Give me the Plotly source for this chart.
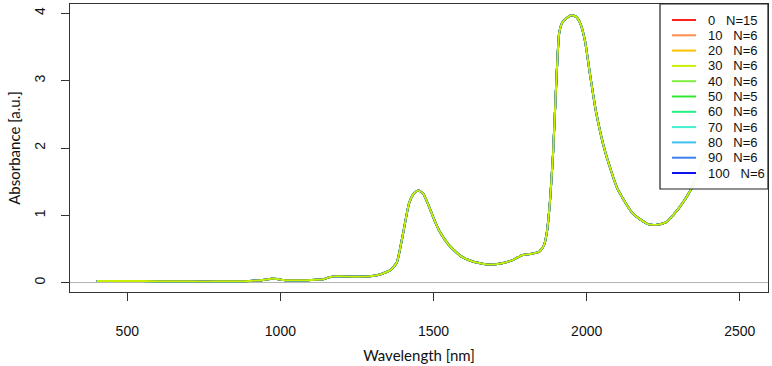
import plotly.graph_objects as go

# ---- data ----
wavelength = [400, 500, 600, 700, 800, 900, 950, 970, 990, 1010, 1050, 1100, 1140, 1160, 1180,
              1200, 1250, 1300, 1330, 1360, 1380, 1400, 1420, 1435, 1450, 1465, 1480, 1500, 1520,
              1550, 1590, 1630, 1680, 1720, 1760, 1790, 1820, 1845, 1860, 1870, 1880, 1890, 1900,
              1910, 1920, 1935, 1950, 1965, 1980, 1995, 2010, 2030, 2060, 2100, 2150, 2200, 2230,
              2260, 2300, 2340, 2380, 2420, 2460, 2500]
absorbance = [0.025, 0.025, 0.022, 0.02, 0.02, 0.025, 0.045, 0.06, 0.055, 0.04, 0.035, 0.04, 0.05,
              0.08, 0.095, 0.095, 0.09, 0.1, 0.13, 0.19, 0.3, 0.72, 1.18, 1.32, 1.37, 1.33, 1.19,
              0.96, 0.76, 0.56, 0.39, 0.31, 0.27, 0.285, 0.34, 0.41, 0.43, 0.46, 0.55, 0.75, 1.2,
              1.9, 2.9, 3.7, 3.86, 3.93, 3.97, 3.95, 3.84, 3.58, 3.12, 2.55, 1.95, 1.4, 1.03, 0.87,
              0.86, 0.9, 1.1, 1.38, 1.8, 2.3, 2.9, 3.45]

groups = ["0", "10", "20", "30", "40", "50", "60", "70", "80", "90", "100"]
counts = [15, 6, 6, 6, 6, 5, 6, 6, 6, 6, 6]
colors = ["#FF2020", "#FF8C50", "#FFC000", "#C8F000", "#80F040", "#30E830",
          "#20F080", "#40F0D0", "#40C0F0", "#4080F0", "#1010F0"]
top_group = "30"

x_ticks = [500, 1000, 1500, 2000, 2500]
y_ticks = [0, 1, 2, 3, 4]

fig = go.Figure()
order = [g for g in groups if g != top_group] + [top_group]
for g in order:
    i = groups.index(g)
    fig.add_trace(go.Scatter(x=wavelength, y=absorbance, mode="lines",
                             line=dict(color=colors[i], width=2, shape="spline", smoothing=0.5),
                             name=f"{g} N={counts[i]}", showlegend=False, hoverinfo="skip"))

# ---- custom R-style legend ----
L, R, T, B = 70, 768, 4, 292
pw, ph = R - L, B - T
def px(xp): return (xp - L) / pw
def py(yp): return (B - yp) / ph

fig.add_shape(type="rect", xref="paper", yref="paper", x0=px(660), x1=px(768), y0=py(189), y1=py(4),
              line=dict(color="#222", width=1.2), fillcolor="rgba(255,255,255,0.92)", layer="above")
for i, g in enumerate(groups):
    yy = 20 + i * 15.3
    fig.add_shape(type="line", xref="paper", yref="paper", x0=px(672), x1=px(696), y0=py(yy), y1=py(yy),
                  line=dict(color=colors[i], width=2), layer="above")
    fig.add_annotation(xref="paper", yref="paper", x=px(706), y=py(yy), xanchor="left", yanchor="middle",
                       text=f"{g}\u00a0\u00a0\u00a0N={counts[i]}", showarrow=False,
                       font=dict(family="Liberation Sans, Arial", size=13, color="#111"))

fig.update_layout(
    width=772, height=366,
    margin=dict(l=L, r=772 - R, t=T, b=366 - B),
    plot_bgcolor="white", paper_bgcolor="white",
    showlegend=False,
    xaxis=dict(range=[313, 2592], tickvals=x_ticks, ticks="outside", ticklen=8, tickcolor="#333",
               showline=True, mirror=True, linecolor="#333", linewidth=1.3, showgrid=False,
               zeroline=False, ticklabelstandoff=18,
               tickfont=dict(family="Liberation Sans, Arial", size=14, color="#111"),
               title=dict(text="Wavelength [nm]", standoff=12,
                          font=dict(family="Lato, Open Sans", size=15, color="#111"))),
    yaxis=dict(range=[-0.138, 4.138], tickvals=y_ticks, ticks="outside", ticklen=8, tickcolor="#333",
               showline=True, mirror=True, linecolor="#333", linewidth=1.3, showgrid=False,
               zeroline=True, zerolinecolor="#b5b5b5", zerolinewidth=1.2, tickangle=-90,
               ticklabelstandoff=10,
               tickfont=dict(family="Liberation Sans, Arial", size=14, color="#111"),
               title=dict(text="Absorbance [a.u.]", standoff=8,
                          font=dict(family="Lato, Open Sans", size=15, color="#111"))),
)

fig.write_html("out.html", config={"displayModeBar": False},
               post_script="document.body.style.margin='0';document.body.style.padding='0';")
